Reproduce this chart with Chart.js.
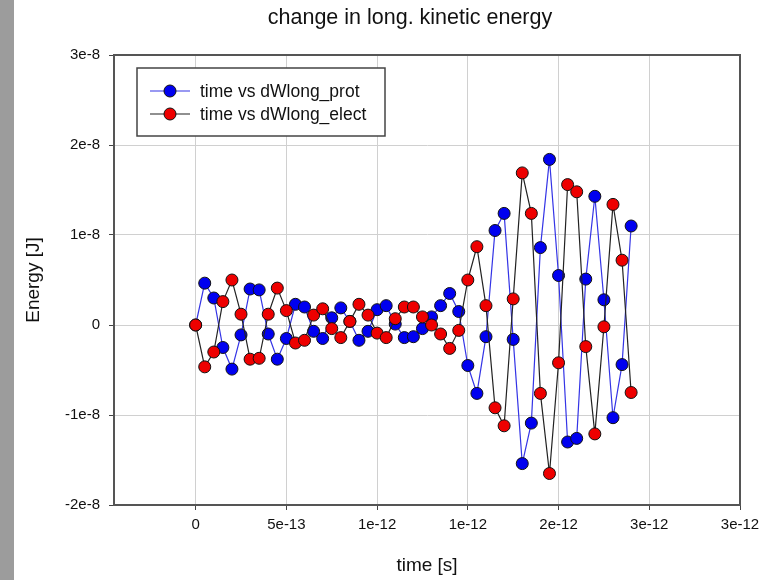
<!DOCTYPE html>
<html lang="en">
  <head>
    <meta charset="UTF-8" />
    <title>change in long. kinetic energy</title>
    <script src="https://cdn.jsdelivr.net/npm/chart.js"></script>
    <style>
      body {
        margin: 0;
        background: #ffffff;
      }
      .strip {
        position: absolute;
        left: 0;
        top: 0;
        width: 14px;
        height: 580px;
        background: #9c9c9c;
      }
      #chart {
        position: absolute;
        left: 0;
        top: 0;
      }
    </style>
  </head>

  <body>
    <div class="strip"></div>
    <canvas id="chart" width="770" height="580"></canvas>

    <script>
      // time in ps
      const timePs = [
        0, 0.05, 0.1, 0.15, 0.2, 0.25, 0.3, 0.35, 0.4, 0.45, 0.5, 0.55, 0.6,
        0.65, 0.7, 0.75, 0.8, 0.85, 0.9, 0.95, 1.0, 1.05, 1.1, 1.15, 1.2, 1.25,
        1.3, 1.35, 1.4, 1.45, 1.5, 1.55, 1.6, 1.65, 1.7, 1.75, 1.8, 1.85, 1.9,
        1.95, 2.0, 2.05, 2.1, 2.15, 2.2, 2.25, 2.3, 2.35, 2.4,
      ];
      // energies in units of 1e-8 J
      const protEnergy = [
        0, 0.465, 0.3, -0.25, -0.49, -0.11, 0.4, 0.39, -0.1, -0.38, -0.15,
        0.23, 0.2, -0.07, -0.15, 0.08, 0.19, 0.04, -0.17, -0.07, 0.17, 0.215,
        0.01, -0.14, -0.13, -0.04, 0.09, 0.215, 0.35, 0.15, -0.45, -0.76, -0.13,
        1.05, 1.24, -0.16, -1.54, -1.09, 0.86, 1.84, 0.55, -1.3, -1.26, 0.51,
        1.43, 0.28, -1.03, -0.44, 1.1,
      ];
      const electEnergy = [
        0, -0.465, -0.3, 0.26, 0.5, 0.12, -0.38, -0.37, 0.12, 0.41, 0.16, -0.2,
        -0.17, 0.11, 0.18, -0.04, -0.14, 0.04, 0.23, 0.11, -0.09, -0.14, 0.07,
        0.2, 0.2, 0.09, 0.0, -0.1, -0.26, -0.06, 0.5, 0.87, 0.215, -0.92, -1.12,
        0.29, 1.69, 1.24, -0.76, -1.65, -0.42, 1.56, 1.48, -0.24, -1.21, -0.02,
        1.34, 0.72, -0.75,
      ];
      const seriesNames = ["time vs dWlong_prot", "time vs dWlong_elect"];

      const xTickValues = [0, 5e-13, 1e-12, 1.5e-12, 2e-12, 2.5e-12, 3e-12];
      const xTickLabels = ["0", "5e-13", "1e-12", "1e-12", "2e-12", "3e-12", "3e-12"];
      const yTickValues = [-2e-8, -1e-8, 0, 1e-8, 2e-8, 3e-8];
      const yTickLabels = ["-2e-8", "-1e-8", "0", "1e-8", "2e-8", "3e-8"];

      const FONT = "'Liberation Sans', Arial, sans-serif";

      function toPoints(values) {
        return timePs.map((t, i) => ({ x: t * 1e-12, y: values[i] * 1e-8 }));
      }

      // title, plot frame and legend box drawn on top
      const decorations = {
        id: "decorations",
        afterDraw(chart) {
          const ctx = chart.ctx;
          const a = chart.chartArea;
          ctx.save();

          ctx.strokeStyle = "#555555";
          ctx.lineWidth = 2;
          ctx.beginPath();
          ctx.moveTo(a.left, a.top);
          ctx.lineTo(a.right, a.top);
          ctx.lineTo(a.right, a.bottom);
          ctx.stroke();

          ctx.fillStyle = "#111111";
          ctx.font = "21.5px " + FONT;
          ctx.textAlign = "center";
          ctx.textBaseline = "middle";
          ctx.fillText("change in long. kinetic energy", a.left + (a.right - a.left) / 2 - 17, 18);

          // legend
          const bx = a.left + 23, by = a.top + 13, bw = 248, bh = 68;
          ctx.fillStyle = "#ffffff";
          ctx.fillRect(bx, by, bw, bh);
          ctx.strokeStyle = "#444444";
          ctx.lineWidth = 1.5;
          ctx.strokeRect(bx, by, bw, bh);
          ctx.font = "17.5px " + FONT;
          ctx.textAlign = "left";
          chart.data.datasets.forEach((ds, i) => {
            const y = by + 23 + i * 23;
            ctx.strokeStyle = ds.borderColor;
            ctx.lineWidth = 1.2;
            ctx.beginPath();
            ctx.moveTo(bx + 13, y);
            ctx.lineTo(bx + 53, y);
            ctx.stroke();
            ctx.beginPath();
            ctx.arc(bx + 33, y, ds.pointRadius, 0, Math.PI * 2);
            ctx.fillStyle = ds.pointBackgroundColor;
            ctx.fill();
            ctx.strokeStyle = ds.pointBorderColor;
            ctx.lineWidth = ds.pointBorderWidth;
            ctx.stroke();
            ctx.fillStyle = "#111111";
            ctx.fillText(ds.label, bx + 63, y + 1);
          });
          ctx.restore();
        },
      };

      new Chart(document.getElementById("chart"), {
        type: "line",
        data: {
          datasets: [
            {
              label: seriesNames[0],
              data: toPoints(protEnergy),
              borderColor: "#3434e6",
              borderWidth: 1.2,
              pointRadius: 6,
              pointBackgroundColor: "#0000f0",
              pointBorderColor: "#111111",
              pointBorderWidth: 1,
              tension: 0,
              order: 2,
            },
            {
              label: seriesNames[1],
              data: toPoints(electEnergy),
              borderColor: "#222222",
              borderWidth: 1.2,
              pointRadius: 6,
              pointBackgroundColor: "#ee0000",
              pointBorderColor: "#111111",
              pointBorderWidth: 1,
              tension: 0,
              order: 1,
            },
          ],
        },
        options: {
          responsive: false,
          animation: false,
          layout: { padding: { top: 55, right: 30, left: 0, bottom: 0 } },
          plugins: {
            legend: { display: false },
            tooltip: { enabled: false },
            title: { display: false },
          },
          scales: {
            x: {
              type: "linear",
              min: -4.5e-13,
              max: 3e-12,
              afterFit: (s) => {
                s.height = 75;
              },
              afterBuildTicks: (s) => {
                s.ticks = xTickValues.map((v) => ({ value: v }));
              },
              ticks: {
                autoSkip: false,
                maxRotation: 0,
                padding: 6,
                color: "#111111",
                font: { family: FONT, size: 15 },
                callback: (v, i) => xTickLabels[i],
              },
              grid: {
                color: "#d0d0d0",
                lineWidth: 1,
                tickLength: 5,
                tickColor: "#444444",
              },
              border: { color: "#555555", width: 2 },
              title: {
                display: true,
                text: "time [s]",
                color: "#111111",
                font: { family: FONT, size: 19 },
                padding: { top: 0, bottom: 3 },
              },
            },
            y: {
              min: -2e-8,
              max: 3e-8,
              afterFit: (s) => {
                s.width = 114;
              },
              afterBuildTicks: (s) => {
                s.ticks = yTickValues.map((v) => ({ value: v }));
              },
              ticks: {
                padding: 9,
                color: "#111111",
                font: { family: FONT, size: 15 },
                callback: (v, i) => yTickLabels[i],
              },
              grid: {
                color: "#d0d0d0",
                lineWidth: 1,
                tickLength: 5,
                tickColor: "#444444",
              },
              border: { color: "#555555", width: 2 },
              title: {
                display: true,
                text: "Energy [J]",
                color: "#111111",
                font: { family: FONT, size: 19 },
                padding: { top: 22, bottom: 0 },
              },
            },
          },
        },
        plugins: [decorations],
      });
    </script>
  </body>
</html>
